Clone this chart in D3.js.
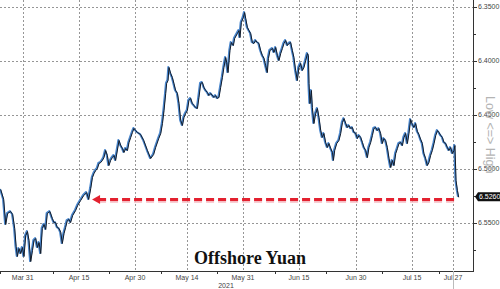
<!DOCTYPE html>
<html>
<head>
<meta charset="utf-8">
<script src="https://cdn.jsdelivr.net/npm/d3@7"></script>
<style>
  body { margin: 0; background: #fff; }
  svg { display: block; }
  .grid line { stroke: #969696; stroke-width: 1px; stroke-dasharray: 2 2; shape-rendering: crispEdges; }
</style>
</head>
<body>
<svg id="chart" width="500" height="289"></svg>
<script>
// offshore yuan (USDCNH)
const cnh = [
  ["03-25 00",6.5188],["03-25 19",6.5280],["03-26 08",6.5512],["03-26 20",6.5410],["03-27 15",6.5392],
  ["03-28 04",6.5419],["03-28 17",6.5549],["03-29 02",6.5716],["03-29 10",6.5808],["03-29 20",6.5734],
  ["03-30 07",6.5781],["03-30 18",6.5725],["03-31 04",6.5808],["03-31 15",6.5614],["04-01 02",6.5577],
  ["04-01 12",6.5660],["04-01 23",6.5855],["04-02 10",6.5753],["04-02 20",6.5660],["04-03 07",6.5642],
  ["04-03 18",6.5725],["04-04 04",6.5679],["04-04 15",6.5781],["04-05 01",6.5549],["04-05 12",6.5512],
  ["04-05 23",6.5558],["04-06 09",6.5410],["04-07 02",6.5392],["04-07 17",6.5456],["04-08 04",6.5494],
  ["04-08 14",6.5494],["04-09 01",6.5540],["04-09 12",6.5549],["04-09 23",6.5586],["04-10 09",6.5688],
  ["04-10 20",6.5595],["04-11 06",6.5540],["04-11 17",6.5475],["04-12 04",6.5466],["04-12 14",6.5494],
  ["04-13 03",6.5429],["04-13 22",6.5382],["04-14 11",6.5336],["04-15 06",6.5290],["04-16 02",6.5244],
  ["04-16 21",6.5216],["04-17 10",6.5280],["04-17 23",6.5179],["04-18 10",6.5077],["04-18 20",6.5040],
  ["04-19 07",6.5012],["04-19 18",6.4994],["04-20 04",6.4947],["04-20 15",6.4938],["04-21 02",6.4919],
  ["04-21 12",6.4892],["04-21 23",6.4827],["04-22 10",6.4873],["04-22 20",6.4966],["04-23 07",6.4919],
  ["04-23 18",6.4892],["04-24 05",6.4873],["04-24 15",6.4919],["04-25 13",6.4734],["04-26 00",6.4781],
  ["04-26 11",6.4808],["04-26 21",6.4845],["04-27 08",6.4808],["04-27 19",6.4827],["04-28 05",6.4753],
  ["04-28 16",6.4706],["04-29 03",6.4660],["04-29 13",6.4623],["04-30 00",6.4642],["04-30 11",6.4660],
  ["05-01 08",6.4679],["05-02 04",6.4734],["05-03 04",6.4827],["05-04 01",6.4901],["05-04 20",6.4864],
  ["05-05 09",6.4799],["05-06 05",6.4716],["05-06 18",6.4669],["05-07 05",6.4577],["05-07 15",6.4457],
  ["05-08 02",6.4299],["05-08 08",6.4206],["05-08 17",6.4179],["05-08 23",6.4058],["05-09 10",6.4114],
  ["05-09 21",6.4151],["05-10 07",6.4206],["05-10 18",6.4271],["05-11 06",6.4299],["05-11 16",6.4392],
  ["05-12 03",6.4549],["05-12 14",6.4595],["05-13 00",6.4521],["05-13 11",6.4484],["05-13 22",6.4457],
  ["05-14 09",6.4364],["05-14 22",6.4345],["05-15 10",6.4392],["05-15 22",6.4410],["05-16 10",6.4429],
  ["05-16 23",6.4438],["05-17 10",6.4336],["05-17 23",6.4206],["05-18 11",6.4197],["05-18 23",6.4244],
  ["05-19 11",6.4271],["05-20 00",6.4290],["05-20 11",6.4318],["05-21 00",6.4299],["05-22 00",6.4336],
  ["05-22 12",6.4318],["05-23 00",6.4345],["05-23 12",6.4336],["05-24 00",6.4244],["05-24 13",6.4151],
  ["05-25 00",6.4058],["05-25 13",6.3966],["05-25 20",6.4012],["05-26 06",6.4105],["05-26 20",6.3901],
  ["05-27 06",6.3827],["05-27 21",6.3855],["05-28 06",6.3790],["05-29 02",6.3744],["05-29 14",6.3716],
  ["05-29 21",6.3781],["05-30 07",6.3642],["05-30 22",6.3595],["05-31 06",6.3549],["05-31 13",6.3605],
  ["06-01 00",6.3688],["06-01 10",6.3716],["06-01 21",6.3744],["06-02 08",6.3827],["06-02 18",6.3836],
  ["06-03 05",6.3808],["06-03 16",6.3827],["06-04 02",6.3836],["06-04 13",6.3901],["06-05 00",6.3947],
  ["06-05 11",6.3975],["06-05 21",6.4040],["06-06 08",6.4105],["06-06 15",6.3975],["06-07 01",6.3901],
  ["06-07 17",6.3882],["06-08 03",6.3919],["06-08 14",6.3873],["06-09 01",6.3947],["06-09 11",6.3994],
  ["06-09 22",6.3929],["06-10 09",6.3882],["06-10 19",6.3836],["06-11 06",6.3808],["06-11 17",6.3855],
  ["06-12 03",6.3836],["06-12 14",6.3827],["06-13 01",6.3901],["06-13 11",6.3966],["06-13 22",6.4086],
  ["06-14 09",6.4179],["06-14 19",6.4058],["06-15 06",6.4021],["06-15 17",6.4086],["06-16 03",6.4058],
  ["06-16 14",6.3994],["06-17 01",6.3929],["06-17 07",6.3947],["06-17 11",6.4206],["06-17 17",6.4392],
  ["06-18 02",6.4271],["06-18 08",6.4429],["06-18 18",6.4577],["06-19 05",6.4484],["06-19 16",6.4438],
  ["06-20 02",6.4521],["06-20 13",6.4642],["06-20 23",6.4706],["06-21 09",6.4669],["06-21 20",6.4753],
  ["06-22 07",6.4799],["06-22 17",6.4762],["06-23 04",6.4808],["06-23 15",6.4845],["06-23 21",6.4919],
  ["06-24 05",6.4827],["06-24 18",6.4762],["06-25 08",6.4734],["06-25 19",6.4669],["06-26 06",6.4568],
  ["06-26 16",6.4531],["06-27 03",6.4577],["06-27 13",6.4614],["06-27 23",6.4595],["06-28 10",6.4623],
  ["06-28 21",6.4614],["06-29 07",6.4660],["06-29 18",6.4669],["06-30 05",6.4716],["06-30 15",6.4688],
  ["07-01 02",6.4706],["07-01 13",6.4753],["07-01 23",6.4799],["07-02 10",6.4827],["07-02 21",6.4892],
  ["07-03 07",6.4799],["07-03 18",6.4753],["07-04 05",6.4688],["07-04 15",6.4623],["07-05 02",6.4614],
  ["07-05 13",6.4642],["07-05 23",6.4623],["07-06 10",6.4669],["07-06 21",6.4762],["07-07 07",6.4716],
  ["07-07 18",6.4734],["07-08 05",6.4799],["07-08 16",6.4901],["07-09 03",6.4984],["07-09 13",6.4919],
  ["07-10 00",6.4966],["07-10 11",6.4855],["07-10 22",6.4808],["07-11 08",6.4762],["07-11 19",6.4753],
  ["07-12 06",6.4781],["07-12 16",6.4706],["07-13 03",6.4669],["07-13 14",6.4762],["07-14 00",6.4669],
  ["07-14 11",6.4540],["07-14 22",6.4586],["07-15 09",6.4614],["07-15 21",6.4577],["07-16 09",6.4651],
  ["07-16 20",6.4679],["07-17 08",6.4725],["07-17 20",6.4762],["07-18 07",6.4855],["07-18 19",6.4901],
  ["07-19 07",6.4966],["07-19 18",6.4938],["07-20 06",6.4873],["07-20 18",6.4827],["07-21 06",6.4762],
  ["07-21 18",6.4688],["07-22 06",6.4642],["07-22 17",6.4660],["07-23 05",6.4688],["07-23 17",6.4706],
  ["07-24 04",6.4753],["07-24 16",6.4762],["07-25 04",6.4799],["07-25 15",6.4827],["07-26 03",6.4799],
  ["07-26 15",6.4855],["07-27 02",6.4827],["07-27 09",6.4781],["07-27 17",6.5105],["07-28 03",6.5197],
  ["07-28 12",6.5260]
];

const xTickDates = ["03-31 00","04-15 00","04-30 00","05-14 00","05-31 00","06-15 00","06-30 00","07-15 00","07-27 00"];
const xTickLabels = ["Mar 31","Apr 15","Apr 30","May 14","May 31","Jun 15","Jun 30","Jul 15","Jul 27"];
const xMinorDates = ["03-25 00","04-08 00","04-23 00","05-07 00","05-23 00","06-08 12","06-22 00","07-07 00","07-23 00"];
const yTicks = [6.35, 6.40, 6.45, 6.50, 6.55];
const yMinor = [6.375, 6.425, 6.475, 6.525, 6.575];
const lastValue = 6.5260;
const arrowFrom = "04-18 12", arrowTo = "07-27 14", arrowLevel = 6.5285;

const parse = d3.timeParse("%Y-%m-%d %H");
const t = s => parse("2021-" + s);

let svg = d3.select('#chart');
let plotRight = 473, plotBottom = 271;

// trading-day axis: the month ticks are not evenly spaced, so map them piecewise
let x = d3.scaleTime()
  .domain(["03-25 00"].concat(xTickDates, ["08-02 00"]).map(t))
  .range([0, 22.7, 79, 135, 187, 243, 299, 356, 412, 453, plotRight]);
let y = d3.scaleLinear().domain([6.3438, 6.5947]).range([0, plotBottom]);

// gridlines, dotted via the .grid css rule
let grid = svg.append('g').attr('class', 'grid');
xTickDates.forEach(d => {
  let gx = Math.round(x(t(d))) + 0.5;
  grid.append('line').attr('x1', gx).attr('x2', gx).attr('y1', 0).attr('y2', plotBottom);
});
yTicks.forEach(d => {
  let gy = Math.round(y(d)) + 0.5;
  grid.append('line').attr('x1', 0).attr('x2', plotRight).attr('y1', gy).attr('y2', gy);
});

// the series: blue under a dark line
let line = d3.line().x(d => x(t(d[0]))).y(d => y(d[1]));
svg.append('path').datum(cnh).attr('d', line)
  .attr('fill', 'none').attr('stroke', '#4a86cc').attr('stroke-width', 2).attr('stroke-linejoin', 'round');
svg.append('path').datum(cnh).attr('d', line)
  .attr('transform', 'translate(0.7,0.5)')
  .attr('fill', 'none').attr('stroke', '#141c28').attr('stroke-width', 1).attr('stroke-linejoin', 'miter');

// red dashed arrow
let ax0 = x(t(arrowFrom)), ax1 = x(t(arrowTo)), ay = y(arrowLevel);
svg.append('line').attr('x1', ax0 + 6).attr('x2', ax1).attr('y1', ay + 1).attr('y2', ay + 1)
  .attr('stroke', '#f3a3ab').attr('stroke-width', 4.5).attr('stroke-dasharray', '8,4').attr('opacity', 0.7);
svg.append('line').attr('x1', ax0 + 6).attr('x2', ax1).attr('y1', ay).attr('y2', ay)
  .attr('stroke', '#e3212f').attr('stroke-width', 3).attr('stroke-dasharray', '8,4');
svg.append('path')
  .attr('d', `M${ax0},${ay}L${ax0 + 8},${ay - 4.5}L${ax0 + 8},${ay + 4.5}Z`)
  .attr('fill', '#e3212f');

// axes
let axisG = svg.append('g').attr('stroke', '#333').attr('stroke-width', 1);
axisG.append('line').attr('x1', plotRight + 0.5).attr('x2', plotRight + 0.5).attr('y1', 0).attr('y2', plotBottom + 1);
axisG.append('line').attr('x1', 0).attr('x2', plotRight + 1).attr('y1', plotBottom + 0.5).attr('y2', plotBottom + 0.5);
axisG.selectAll('.ym').data(yTicks.concat(yMinor)).enter().append('line')
  .attr('x1', plotRight).attr('x2', d => yTicks.includes(d) ? plotRight + 4 : plotRight + 3)
  .attr('y1', d => Math.round(y(d)) + 0.5).attr('y2', d => Math.round(y(d)) + 0.5);
axisG.selectAll('.xm').data(xMinorDates).enter().append('line')
  .attr('x1', d => Math.round(x(t(d))) + 0.5).attr('x2', d => Math.round(x(t(d))) + 0.5)
  .attr('y1', plotBottom).attr('y2', plotBottom + 3);
// marker line under the last tick
axisG.append('line')
  .attr('x1', Math.round(x(t("07-27 00"))) + 0.5).attr('x2', Math.round(x(t("07-27 00"))) + 0.5)
  .attr('y1', plotBottom).attr('y2', 289).attr('stroke', '#bbb');

svg.append('g').selectAll('text').data(yTicks).enter().append('text')
  .attr('x', plotRight + 5).attr('y', d => y(d) + 2.5)
  .attr('font-family', 'Liberation Sans, Arial, sans-serif').attr('font-size', 7).attr('fill', '#444')
  .text(d => d.toFixed(4));

svg.append('g').selectAll('text').data(xTickDates).enter().append('text')
  .attr('x', d => x(t(d))).attr('y', 280)
  .attr('text-anchor', 'middle')
  .attr('font-family', 'Liberation Sans, Arial, sans-serif').attr('font-size', 7).attr('fill', '#444')
  .text((d, i) => xTickLabels[i]);

svg.append('text').attr('x', 226).attr('y', 288).attr('text-anchor', 'middle')
  .attr('font-family', 'Liberation Sans, Arial, sans-serif').attr('font-size', 7).attr('fill', '#444')
  .text('2021');

// last value tag
let ly = y(lastValue);
svg.append('path')
  .attr('d', `M${plotRight + 2},${ly}L${plotRight + 5},${ly - 4.5}L500,${ly - 4.5}L500,${ly + 4.5}L${plotRight + 5},${ly + 4.5}Z`)
  .attr('fill', '#111');
svg.append('text').attr('x', plotRight + 6).attr('y', ly + 2.5)
  .attr('font-family', 'Liberation Sans, Arial, sans-serif').attr('font-size', 7).attr('fill', '#fff')
  .text(lastValue.toFixed(4));

// Low <=> High
svg.append('text')
  .attr('transform', 'translate(486,96) rotate(90)')
  .attr('font-family', 'Liberation Sans, Arial, sans-serif').attr('font-size', 12.5).attr('fill', '#b4b4b4')
  .text('Low <=> High');

// title
svg.append('text').attr('x', 250).attr('y', 264).attr('text-anchor', 'middle')
  .attr('font-family', 'Liberation Serif, Times New Roman, serif').attr('font-weight', 'bold')
  .attr('font-size', 18).attr('fill', '#111')
  .text('Offshore Yuan');
</script>
</body>
</html>
